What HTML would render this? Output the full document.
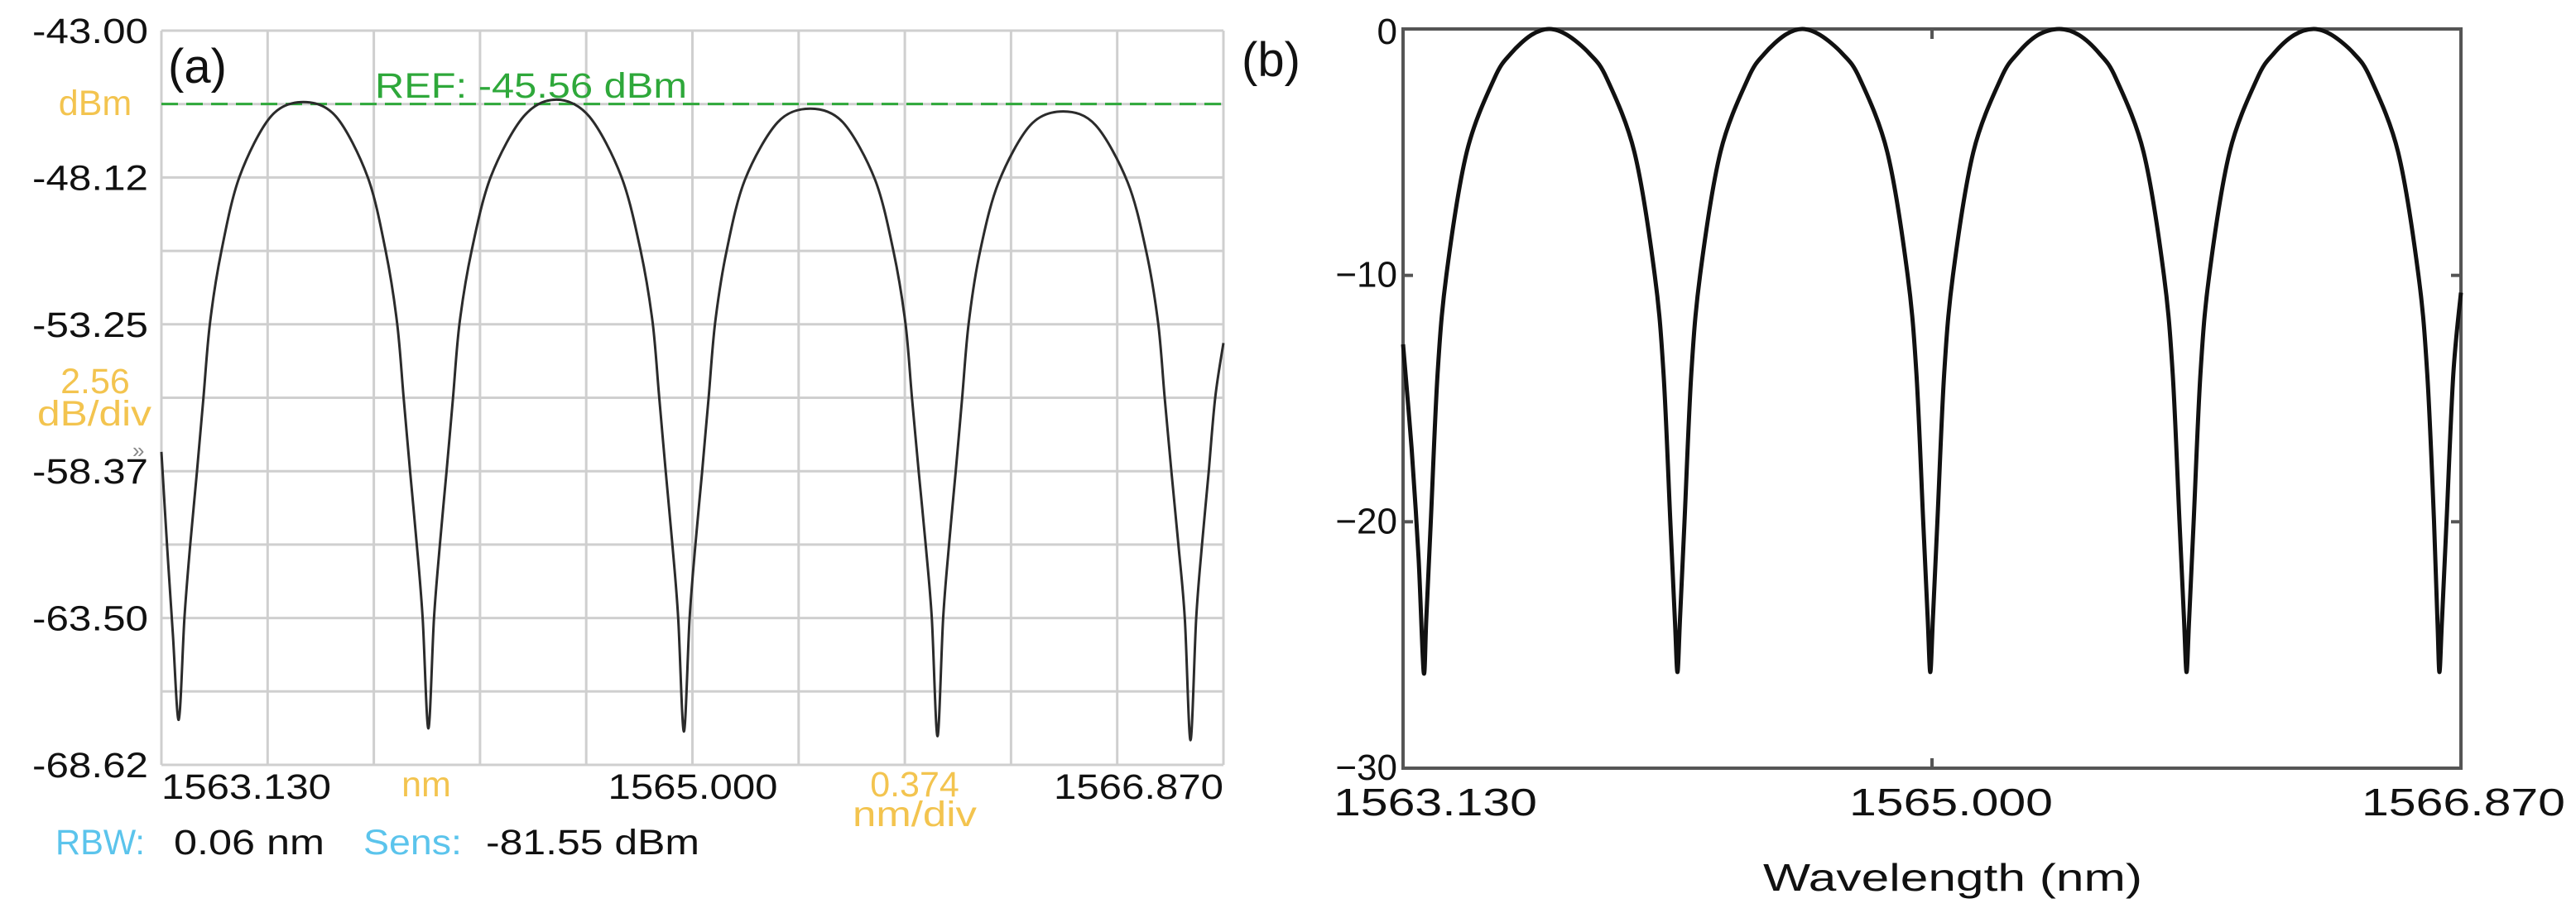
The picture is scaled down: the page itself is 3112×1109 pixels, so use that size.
<!DOCTYPE html>
<html><head><meta charset="utf-8"><style>
html,body{margin:0;padding:0;background:#fff}
svg{display:block}
text{font-family:"Liberation Sans","DejaVu Sans",sans-serif}
</style></head><body>
<svg id="fig" width="3112" height="1109" viewBox="0 0 3112 1109" xmlns="http://www.w3.org/2000/svg">
<g id="pa"></g>
<g id="pb"></g>
</svg>
<script>
// ---- Panel (a) data: OSA measurement ----
const wlA = [1563.130,1563.150,1563.170,1563.191,
1563.211,1563.231,1563.255,1563.278,1563.301,1563.341,1563.405,1563.515,1563.630,
1563.745,1563.856,1563.920,1563.960,1563.983,1564.006,1564.030,1564.050,1564.070,
1564.090,1564.110,1564.134,1564.157,1564.180,1564.222,1564.290,1564.405,1564.521,
1564.637,1564.750,1564.818,1564.860,1564.883,1564.906,1564.930,1564.950,1564.970,
1564.990,1565.010,1565.034,1565.057,1565.080,1565.120,1565.185,1565.300,1565.415,
1565.530,1565.643,1565.708,1565.750,1565.773,1565.797,1565.822,1565.843,1565.863,
1565.883,1565.903,1565.927,1565.950,1565.973,1566.013,1566.078,1566.190,1566.306,
1566.420,1566.533,1566.598,1566.640,1566.663,1566.687,1566.712,1566.734,1566.754,
1566.774,1566.794,1566.818,1566.841,1566.870];
const pwrA = [-57.7,-61.0,-64.0,-67.05,
-63.5,-61.0,-58.4,-55.8,-53.2,-50.7,-48.1,-46.0,-45.49,
-46.0,-48.1,-50.7,-53.2,-55.8,-58.4,-61.0,-63.5,-67.35,
-63.5,-61.0,-58.4,-55.8,-53.2,-50.7,-48.1,-46.0,-45.41,
-46.0,-48.1,-50.7,-53.2,-55.8,-58.4,-61.0,-63.5,-67.46,
-63.5,-61.0,-58.4,-55.8,-53.2,-50.7,-48.2,-46.2,-45.72,
-46.2,-48.2,-50.7,-53.2,-55.8,-58.4,-61.0,-63.5,-67.62,
-63.5,-61.0,-58.4,-55.8,-53.2,-50.7,-48.3,-46.3,-45.82,
-46.3,-48.3,-50.7,-53.2,-55.8,-58.4,-61.0,-63.5,-67.76,
-63.5,-61.0,-58.4,-55.8,-53.9];
const yTicksA = ["-43.00","-48.12","-53.25","-58.37","-63.50","-68.62"];
const xTicksA = ["1563.130","1565.000","1566.870"];
const refA = -45.56;

// ---- Panel (b) data: simulation ----
const wlB = [1563.130,1563.160,1563.185,1563.203,
1563.212,1563.228,1563.252,1563.283,1563.355,1563.453,1563.511,1563.583,1563.647,
1563.711,1563.789,1563.850,1563.948,1564.020,1564.051,1564.075,1564.091,1564.100,
1564.109,1564.125,1564.149,1564.180,1564.252,1564.350,1564.408,1564.480,1564.541,
1564.605,1564.683,1564.744,1564.842,1564.914,1564.945,1564.969,1564.985,1564.994,
1565.003,1565.019,1565.043,1565.074,1565.146,1565.244,1565.302,1565.374,1565.450,
1565.520,1565.592,1565.650,1565.748,1565.820,1565.851,1565.875,1565.891,1565.900,
1565.909,1565.925,1565.949,1565.980,1566.052,1566.150,1566.208,1566.280,1566.350,
1566.414,1566.492,1566.550,1566.648,1566.720,1566.751,1566.775,1566.787,1566.794,
1566.803,1566.819,1566.843,1566.870];
const pwrB = [-12.8,-17,-21.5,-26.1,
-24,-20,-14,-10,-5,-2,-1,-0.25,0,
-0.25,-1,-2,-5,-10,-14,-20,-24,-26.1,
-24,-20,-14,-10,-5,-2,-1,-0.25,0,
-0.25,-1,-2,-5,-10,-14,-20,-24,-26.1,
-24,-20,-14,-10,-5,-2,-1,-0.25,0,
-0.25,-1,-2,-5,-10,-14,-20,-24,-26.1,
-24,-20,-14,-10,-5,-2,-1,-0.25,0,
-0.25,-1,-2,-5,-10,-14,-20,-24,-26.1,
-24,-20,-14,-10.7];
const yTicksB = [0,-10,-20,-30];
const xTicksB = [1563.130,1565.000,1566.870];

const NS="http://www.w3.org/2000/svg";
function mk(parent,tag,attrs,txt){const e=document.createElementNS(NS,tag);for(const k in attrs)e.setAttribute(k,attrs[k]);if(txt!==undefined)e.textContent=txt;parent.appendChild(e);return e;}
function smooth(pts){let d=`M${pts[0][0].toFixed(1)},${pts[0][1].toFixed(1)}`;
 for(let i=0;i<pts.length-1;i++){const p0=pts[Math.max(0,i-1)],p1=pts[i],p2=pts[i+1],p3=pts[Math.min(pts.length-1,i+2)];
  const t=0.16;const c1=[p1[0]+(p2[0]-p0[0])*t,p1[1]+(p2[1]-p0[1])*t],c2=[p2[0]-(p3[0]-p1[0])*t,p2[1]-(p3[1]-p1[1])*t];
  d+=`C${c1[0].toFixed(1)},${c1[1].toFixed(1)} ${c2[0].toFixed(1)},${c2[1].toFixed(1)} ${p2[0].toFixed(1)},${p2[1].toFixed(1)}`;}
 return d;}

// Panel A
(function(){
 const g=document.getElementById('pa');
 const L=195,R=1478,T=37,B=924,x0=1563.130,x1=1566.870,y0=-43.00,y1=-68.62;
 const X=v=>L+(v-x0)/(x1-x0)*(R-L), Y=v=>T+(y0-v)/(y0-y1)*(B-T);
 for(let i=0;i<=10;i++){
  const gx=mk(g,'line',{x1:L+i*(R-L)/10,x2:L+i*(R-L)/10,y1:T,y2:B,stroke:'#cfcfcf','stroke-width':3});
  
  
  const gy=mk(g,'line',{x1:L,x2:R,y1:T+i*(B-T)/10,y2:T+i*(B-T)/10,stroke:'#cfcfcf','stroke-width':3});
  
  
 }
 yTicksA.forEach((s,i)=>{const t=mk(g,'text',{x:179,y:T+i*2*(B-T)/10+15,'text-anchor':'end','font-size':43,fill:'#111',textLength:140,lengthAdjust:'spacingAndGlyphs'},s);
  
  });
 const xl=[[195,'start'],[837,'middle'],[1478,'end']];
 xTicksA.forEach((s,i)=>{const t=mk(g,'text',{x:xl[i][0],y:965,'text-anchor':xl[i][1],'font-size':43,fill:'#111',textLength:205,lengthAdjust:'spacingAndGlyphs'},s);
  
  });
 const ref=mk(g,'line',{x1:L,x2:R,y1:Y(refA),y2:Y(refA),stroke:'#2ea83a','stroke-width':3,'stroke-dasharray':'20 10'});
 
 
 const tr=mk(g,'path',{d:smooth(wlA.map((w,i)=>[X(w),Y(pwrA[i])])),fill:'none',stroke:'#2b2b2b','stroke-width':3});
 
 
})();

// Panel B
(function(){
 const g=document.getElementById('pb');
 const L=1695,R=2973,T=35,B=928,x0=1563.130,x1=1566.870,y0=0,y1=-30;
 const X=v=>L+(v-x0)/(x1-x0)*(R-L), Y=v=>T+(y0-v)/(y0-y1)*(B-T);
 const fr=mk(g,'rect',{x:L,y:T,width:R-L,height:B-T,fill:'none',stroke:'#555','stroke-width':4});
 
 
 yTicksB.forEach(v=>{
  const a=mk(g,'line',{x1:L,x2:L+12,y1:Y(v),y2:Y(v),stroke:'#555','stroke-width':4});
  
  
  const b=mk(g,'line',{x1:R-12,x2:R,y1:Y(v),y2:Y(v),stroke:'#555','stroke-width':4});
  
  
  const s=v===0?'0':'\u2212'+Math.abs(v);
  const t=mk(g,'text',{x:1688,y:Y(v)+(v===0?18:14),'text-anchor':'end','font-size':44,fill:'#111'},s);
  
  
 });
 const n=xTicksB.length;
 xTicksB.forEach((v,i)=>{
  const a=mk(g,'line',{x1:X(v),x2:X(v),y1:B,y2:B-12,stroke:'#555','stroke-width':4});
  
  
  const b=mk(g,'line',{x1:X(v),x2:X(v),y1:T,y2:T+12,stroke:'#555','stroke-width':4});
  
  
  const anchor=i===0?'start':(i===n-1?'end':'middle');
  const tx=i===0?X(v)-84:(i===n-1?X(v)+126:X(v)+23);
  const t=mk(g,'text',{x:tx,y:985,'text-anchor':anchor,'font-size':46,fill:'#111',textLength:246,lengthAdjust:'spacingAndGlyphs'},v.toFixed(3));
  
  
 });
 const tr=mk(g,'path',{d:smooth(wlB.map((w,i)=>[X(w),Y(pwrB[i])])),fill:'none',stroke:'#111','stroke-width':5});
 
 
})();
</script>
<div style="position:absolute;left:0;top:0;width:3112px;height:1109px;pointer-events:none">
<svg width="3112" height="1109" viewBox="0 0 3112 1109" xmlns="http://www.w3.org/2000/svg">
<text x="203" y="100" font-size="58" fill="#111">(a)</text>
<text x="1500" y="92" font-size="58" fill="#111">(b)</text>
<text x="453" y="118" font-size="43" fill="#2ea83a" textLength="377" lengthAdjust="spacingAndGlyphs">REF: -45.56 dBm</text>
<text x="115" y="139" font-size="43" fill="#f3c44f" text-anchor="middle">dBm</text>
<text x="115" y="475" font-size="43" fill="#f3c44f" text-anchor="middle">2.56</text>
<text x="114" y="514" font-size="43" fill="#f3c44f" text-anchor="middle" textLength="138" lengthAdjust="spacingAndGlyphs">dB/div</text>
<text x="160" y="553" font-size="26" fill="#888">»</text>
<text x="515" y="962" font-size="43" fill="#f3c44f" text-anchor="middle">nm</text>
<text x="1105" y="962" font-size="43" fill="#f3c44f" text-anchor="middle">0.374</text>
<text x="1105" y="998" font-size="43" fill="#f3c44f" text-anchor="middle" textLength="150" lengthAdjust="spacingAndGlyphs">nm/div</text>
<text x="67" y="1032" font-size="43" fill="#5bc4ec" textLength="108" lengthAdjust="spacingAndGlyphs">RBW:</text>
<text x="210" y="1032" font-size="43" fill="#111" textLength="182" lengthAdjust="spacingAndGlyphs">0.06 nm</text>
<text x="439" y="1032" font-size="43" fill="#5bc4ec" textLength="119" lengthAdjust="spacingAndGlyphs">Sens:</text>
<text x="587" y="1032" font-size="43" fill="#111" textLength="258" lengthAdjust="spacingAndGlyphs">-81.55 dBm</text>
<text x="2359" y="1076" font-size="46" fill="#111" text-anchor="middle" textLength="458" lengthAdjust="spacingAndGlyphs">Wavelength (nm)</text>
</svg></div>
</body></html>
